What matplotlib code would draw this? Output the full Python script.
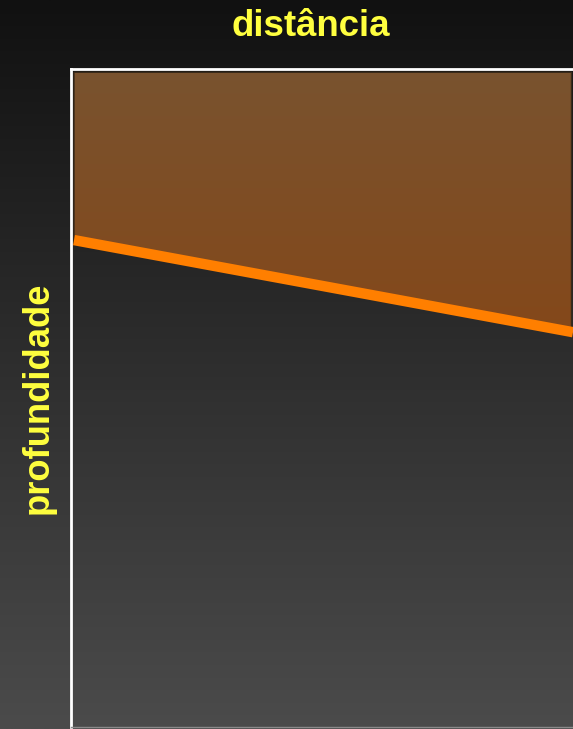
import numpy as np
import matplotlib
matplotlib.use("Agg")
import matplotlib.pyplot as plt
from matplotlib.colors import LinearSegmentedColormap
from matplotlib.patches import Polygon

# Data
distance = [0.0, 1.0]
interface_depth = [0.26, 0.40]   # fraction of axis depth (0 = surface)
title_text = "distância"
ylabel_text = "profundidade"

W, H = 573, 729
fig = plt.figure(figsize=(W / 100, H / 100), dpi=100)

# background gradient
bg = fig.add_axes([0, 0, 1, 1])
bg.set_axis_off()
grad = np.linspace(0, 1, 256).reshape(-1, 1)
bg_cmap = LinearSegmentedColormap.from_list("bg", ["#111111", "#4b4b4b"])
bg.imshow(grad, aspect="auto", cmap=bg_cmap, extent=[0, 1, 1, 0])
bg.set_xlim(0, 1); bg.set_ylim(1, 0)

L, T, B, R = 71, 69, 727, 573
ax = fig.add_axes([L / W, 1 - B / H, (R - L) / W, (B - T) / H])
ax.patch.set_alpha(0)
ax.set_xlim(0, 1)
ax.set_ylim(1, 0)
ax.set_xticks([]); ax.set_yticks([])
for s in ["left", "top"]:
    ax.spines[s].set_color("white")
    ax.spines[s].set_linewidth(2)
ax.spines["bottom"].set_color("#8a8a8a")
ax.spines["bottom"].set_linewidth(1)
ax.spines["right"].set_visible(False)

# brown layer with gradient
x0 = 0.006
poly_pts = [(x0, 0.005), (0.997, 0.005), (0.997, interface_depth[1]), (x0, interface_depth[0])]
brown_cmap = LinearSegmentedColormap.from_list("br", ["#79532f", "#84481a"])
im = ax.imshow(grad, aspect="auto", cmap=brown_cmap, extent=[0, 1, 0.40, 0], zorder=1)
poly = Polygon(poly_pts, closed=True, facecolor="none", edgecolor="#3a2a1a", linewidth=1, zorder=2)
ax.add_patch(poly)
im.set_clip_path(poly)

ax.plot([distance[0] + x0, distance[1]], interface_depth, color="#ff7f00", linewidth=7.5,
        solid_capstyle="butt", zorder=3)

fig.text(310.5 / W, 1 - 36 / H, title_text, color="#ffff3f", fontsize=26.4, fontweight="bold",
         family="Liberation Sans", ha="center", va="baseline")
fig.text(38 / W, 1 - 397.5 / H, ylabel_text, color="#ffff3f", fontsize=26.2, fontweight="bold",
         family="Liberation Sans", ha="center", va="center", rotation=90)

fig.savefig("out.png", dpi=100)
